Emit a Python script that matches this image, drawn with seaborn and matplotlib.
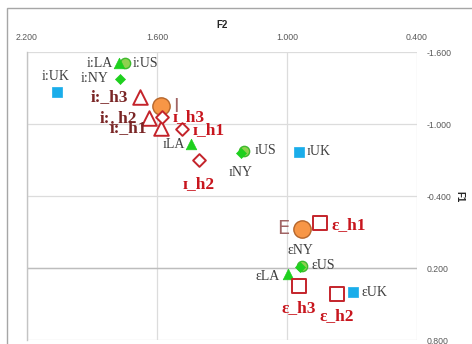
import matplotlib
matplotlib.use("Agg")
import matplotlib.pyplot as plt
import pandas as pd
import seaborn as sns
from matplotlib.patches import Rectangle

# Formant positions (F2 horizontal, F1 vertical) for each token
labels = ["i:UK", "i:LA", "i:US", "i:NY", "i:_h3", "i:_h2", "i:_h1",
          "ɪ_h3", "ɪ_h1", "ɪLA", "ɪ_h2", "ɪUS", "ɪNY", "ɪUK",
          "I", "E",
          "ε_h1", "εNY", "εUS", "εLA", "ε_h3", "ε_h2", "εUK"]
f2 = [2.062, 1.775, 1.748, 1.771, 1.679, 1.637, 1.582,
      1.577, 1.485, 1.443, 1.406, 1.199, 1.213, 0.945,
      1.582, 0.931,
      0.848, 0.940, 0.931, 0.996, 0.945, 0.769, 0.696]
f1 = [-1.267, -1.508, -1.508, -1.375, -1.225, -1.050, -0.967,
      -1.058, -0.958, -0.833, -0.700, -0.775, -0.758, -0.767,
      -1.150, -0.125,
      -0.175, 0.192, 0.183, 0.250, 0.350, 0.417, 0.400]
kinds = ["UK", "LA", "US", "NY", "h_i", "h_i", "h_i",
         "h_ih", "h_ih", "LA", "h_ih", "US", "NY", "UK",
         "mean", "mean",
         "h_e", "NY", "US", "LA", "h_e", "h_e", "UK"]

x_ticks = [2.2, 1.6, 1.0, 0.4]
y_ticks = [-1.6, -1.0, -0.4, 0.2, 0.8]

df = pd.DataFrame({"label": labels, "F2": f2, "F1": f1, "kind": kinds})

# marker style per kind: (marker, size, face, edge, linewidth)
styles = {
    "mean": ("o", 155, "#F79646", "#B5652A", 1.0),
    "US":   ("o", 55, "#8FD14F", "#3DBA2E", 1.0),
    "LA":   ("^", 58, "#1ED01E", "#1ED01E", 0.5),
    "NY":   ("D", 26, "#1ED01E", "#1ED01E", 0.5),
    "UK":   ("s", 44, "#1AADEA", "#1AADEA", 0.5),
    "h_i":  ("^", 110, "white", "#C4242B", 1.4),
    "h_ih": ("D", 42, "white", "#C4242B", 1.4),
    "h_e":  ("s", 95, "white", "#C4242B", 1.4),
}

# label offsets in pixels and alignment
offsets = {
    "i:UK": (-1, 15, "center"), "i:LA": (-6, 0, "right"), "i:US": (8, 0, "left"),
    "i:NY": (-11, 0, "right"), "i:_h3": (-12, 0, "right"), "i:_h2": (-12, 0, "right"),
    "i:_h1": (-14, 0, "right"), "ɪ_h3": (11, 0, "left"), "ɪ_h1": (11, -1, "left"),
    "ɪLA": (-6, 0, "right"), "ɪ_h2": (0, -24, "center"), "ɪUS": (11, 0, "left"),
    "ɪNY": (0, -19, "center"), "ɪUK": (8, 0, "left"), "I": (12, 0, "left"),
    "E": (-13, 0, "right"), "ε_h1": (12, -2, "left"), "εNY": (0, 17, "center"),
    "εUS": (10, 0, "left"), "εLA": (-8, -2, "right"), "ε_h3": (0, -22, "center"),
    "ε_h2": (0, -22, "center"), "εUK": (9, 0, "left"),
}

sns.set_theme(style="whitegrid")
plt.rcParams["font.family"] = ["Liberation Sans", "DejaVu Sans"]

fig = plt.figure(figsize=(4.72, 3.44), dpi=100)
ax = fig.add_axes([27 / 472, 1 - 340 / 344, 390 / 472, 288 / 344])
ax.set_facecolor("white")

for kind in ["US", "LA", "NY", "UK", "mean", "h_i", "h_ih", "h_e"]:
    marker, size, face, edge, lw = styles[kind]
    sub = df[df["kind"] == kind]
    sns.scatterplot(data=sub, x="F2", y="F1", ax=ax, marker=marker, s=size,
                    color=face, edgecolor=edge, linewidth=lw, zorder=3,
                    legend=False)

serif = ["Liberation Serif", "DejaVu Serif"]
for lab, x, y, kind in zip(labels, f2, f1, kinds):
    dx, dy, ha = offsets[lab]
    if kind == "mean":
        kw = dict(fontsize=14, color="#A06464", fontweight="medium",
                  family=["DejaVu Sans"])
    elif kind == "h_i":
        kw = dict(fontsize=12.5, color="#7A2626", fontweight="bold", family=serif)
    elif kind in ("h_ih", "h_e"):
        kw = dict(fontsize=12.5, color="#C8161E", fontweight="bold", family=serif)
    else:
        kw = dict(fontsize=10, color="#404040", family=serif)
    ax.annotate(lab, (x, y), xytext=(dx, dy), textcoords="offset pixels",
                ha=ha, va="center", zorder=5, **kw)

ax.set_xlim(2.2, 0.4)
ax.set_ylim(0.8, -1.6)
ax.set_xticks(x_ticks)
ax.set_yticks(y_ticks)
ax.set_xticklabels([f"{v:.3f}" for v in x_ticks])
ax.set_yticklabels([f"{v:.3f}" for v in y_ticks])
ax.xaxis.tick_top()
ax.yaxis.tick_right()
ax.tick_params(axis="both", length=0, labelsize=6.3, labelcolor="#595959")
ax.tick_params(axis="x", pad=7)
ax.tick_params(axis="y", pad=7)
ax.set_xlabel("")
ax.set_ylabel("")
ax.grid(True, color="#DCDCDC", linewidth=0.9)
ax.axhline(0.2, color="#BDBDBD", linewidth=1.0, zorder=1)
for side in ["top", "right", "bottom"]:
    ax.spines[side].set_visible(False)
ax.spines["left"].set_color("#C4C4C4")
ax.spines["left"].set_linewidth(1.0)

fig.text(222 / 472, 1 - 25 / 344, "F2", ha="center", va="center",
         fontsize=7, fontweight="bold", color="#262626")
fig.text(459 / 472, 1 - 197 / 344, "F1", ha="center", va="center",
         rotation=-90, fontsize=7, fontweight="bold", color="#262626")

fig.patches.append(Rectangle((7 / 472, -0.1), 1.0, 1 - 8 / 344 + 0.1,
                             transform=fig.transFigure, fill=False,
                             edgecolor="#A6A6A6", linewidth=1.0))

fig.savefig("out.png", dpi=100)
